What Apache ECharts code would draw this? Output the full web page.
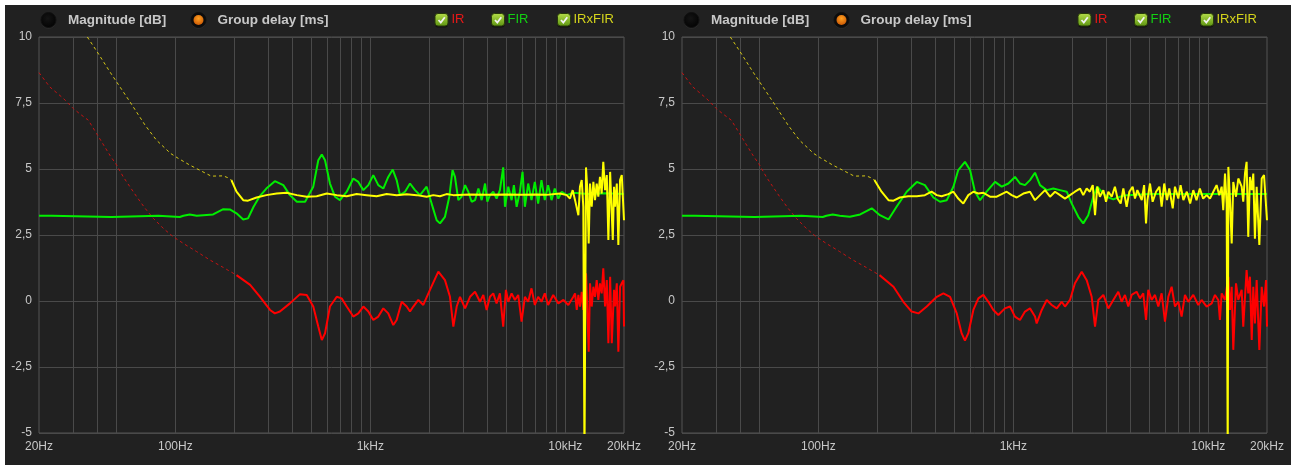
<!DOCTYPE html>
<html>
<head>
<meta charset="utf-8">
<title>IR / FIR group delay</title>
<script src="https://cdn.jsdelivr.net/npm/echarts@6/dist/echarts.min.js"></script>
<style>
  html, body { margin: 0; padding: 0; background: #ffffff; }
  #chart { position: absolute; left: 5px; top: 5px; width: 1286px; height: 460px; }
</style>
</head>
<body>
<div id="chart"></div>
<script>
// ---- axis values ----
const freqGridLines = [30, 40, 50, 100, 200, 300, 400, 500, 600, 700, 800, 900, 1000,
  2000, 3000, 4000, 5000, 6000, 7000, 8000, 9000, 10000];
const freqLabelValues = [20, 100, 1000, 10000, 20000];
const freqLabelTexts = ['20Hz', '100Hz', '1kHz', '10kHz', '20kHz'];
const delayMin = -5, delayMax = 10, delayStep = 2.5;

// ---- group delay [ms] vs frequency [Hz] ----
// low-frequency tails (drawn dashed), same in both panels
const irLow = [[20, 8.65], [22.7, 8.11], [26.7, 7.67], [30, 7.29], [32.5, 7.08], [35.8, 6.85],
  [39.5, 6.34], [41.9, 6.03], [46.2, 5.52], [50, 5.15], [54.1, 4.70], [58.6, 4.32], [63.4, 3.95],
  [70, 3.51], [77.2, 3.13], [86.8, 2.75], [97.7, 2.43], [110, 2.18], [128.8, 1.87], [150.7, 1.55],
  [176.3, 1.27], [206, 0.98]];
const irfirLow = [[35.4, 10.0], [39.5, 9.47], [46.2, 8.68], [50, 8.30], [58.6, 7.54], [70, 6.66],
  [80.1, 6.09], [94.6, 5.59], [103.7, 5.40], [118.6, 5.15], [138.7, 4.89], [152.9, 4.73],
  [176.3, 4.74], [190.4, 4.64], [194, 4.58]];

// left panel
const irLeft = [[206, 0.98], [242, 0.61], [272, 0.16], [306, -0.34], [324, -0.47], [344, -0.40],
  [387, -0.09], [436, 0.26], [472, 0.23], [510, -0.21], [541, -0.97], [564, -1.48], [586, -1.22],
  [621, -0.21], [673, 0.16], [713, 0.10], [757, -0.21], [818, -0.59], [868, -0.47], [921, -0.21],
  [977, -0.40], [1036, -0.72], [1099, -0.59], [1166, -0.28], [1236, -0.47], [1312, -0.91],
  [1365, -0.72], [1449, -0.03], [1537, -0.21], [1598, -0.40], [1662, -0.21], [1763, 0.04],
  [1870, -0.15], [2023, 0.42], [2233, 1.11], [2415, 0.79], [2562, 0.16], [2666, -0.97],
  [2774, -0.21], [2885, 0.16], [3062, -0.28], [3247, 0.16], [3444, 0.35], [3653, -0.03],
  [3798, 0.23], [3950, -0.34], [4108, 0.16], [4271, 0.29], [4442, -0.09], [4620, 0.29],
  [4804, -0.97], [4960, 0.42], [5100, -0.03], [5305, 0.29], [5516, 0.04], [5736, 0.23],
  [5966, -0.78], [6205, 0.16], [6453, -0.03], [6710, 0.48], [6978, -0.15], [7257, 0.16],
  [7547, -0.03], [7849, 0.29], [8163, -0.15], [8670, 0.23], [9209, -0.09], [9781, 0.04],
  [10360, -0.15], [11000, 0.16], [11220, 0.29], [11450, -0.34], [11670, 0.23], [11890, -0.21],
  [12140, 0.35], [12370, -0.34], [12770, 1.05], [12970, -0.34], [13180, -1.92], [13390, 0.67],
  [13660, -0.21], [13930, 0.54], [14200, 0.16], [14490, 0.79], [14770, 0.04], [15060, 0.67],
  [15370, 0.29], [15660, 1.24], [15990, -0.21], [16320, 0.79], [16630, -1.60], [16980, 0.92],
  [17310, -1.60], [17780, 0.42], [17990, -0.21], [18370, 0.67], [18710, -1.92], [19090, 0.54],
  [19480, 0.67], [19860, 0.79], [20000, -0.97]];
const firLeft = [[20, 3.23], [23.2, 3.23], [23.6, 3.18], [47.1, 3.18], [47.6, 3.23], [81.9, 3.23],
  [82.5, 3.18], [105.4, 3.18], [110, 3.23], [118.6, 3.28], [128.8, 3.23], [156.3, 3.28],
  [176.3, 3.48], [190.4, 3.47], [206, 3.32], [223, 3.09], [236, 3.13], [252, 3.57], [270, 3.95],
  [293, 4.26], [324, 4.54], [358, 4.39], [387, 4.01], [420, 3.76], [463, 3.76], [510, 4.33],
  [541, 5.33], [564, 5.55], [586, 5.33], [621, 4.45], [659, 3.95], [699, 3.82], [757, 4.14],
  [818, 4.64], [868, 4.51], [921, 4.20], [977, 4.39], [1036, 4.77], [1099, 4.39], [1166, 4.26],
  [1236, 4.70], [1303, 4.98], [1365, 4.58], [1420, 4.01], [1507, 4.14], [1598, 4.45], [1695, 4.20],
  [1798, 4.01], [1945, 4.33], [2063, 3.69], [2190, 3.06], [2277, 2.94], [2415, 3.19], [2542, 3.95],
  [2641, 4.96], [2718, 4.70], [2827, 3.82], [2939, 3.95], [3062, 4.39], [3181, 4.14], [3310, 3.76],
  [3444, 3.82], [3585, 4.26], [3725, 3.82], [3877, 4.45], [3983, 3.76], [4108, 4.01], [4271, 4.14],
  [4442, 3.88], [4620, 4.20], [4804, 5.06], [4905, 3.57], [5100, 4.33], [5305, 3.82], [5450, 4.39],
  [5630, 3.57], [5850, 4.14], [6035, 4.89], [6205, 3.57], [6453, 4.45], [6710, 3.82], [6978, 4.51],
  [7257, 3.69], [7547, 4.58], [7849, 3.82], [8163, 4.39], [8500, 3.82], [8830, 4.26], [9209, 3.88],
  [9590, 4.14], [10170, 4.01], [11000, 4.10], [13000, 4.05], [16000, 4.08], [20000, 4.05]];
const irfirLeft = [[194, 4.58], [206, 4.14], [223, 3.82], [236, 3.80], [261, 3.92], [293, 4.01],
  [331, 4.07], [372, 4.10], [420, 4.01], [472, 3.95], [531, 3.97], [598, 4.07], [673, 4.01],
  [757, 3.97], [851, 4.05], [958, 4.01], [1078, 3.97], [1213, 4.05], [1365, 4.01], [1537, 4.04],
  [1729, 4.01], [1945, 3.95], [2104, 4.01], [2277, 3.97], [2461, 4.05], [2666, 4.01], [3200, 4.03],
  [4000, 4.02], [5000, 4.03], [6000, 4.02], [7000, 4.03], [8000, 4.02], [9397, 4.07], [10170, 4.01],
  [10570, 3.88], [10910, 4.20], [11220, 3.82], [11440, 3.88], [11670, 3.25], [11890, 4.33],
  [12140, 4.58], [12370, 3.57], [12540, -6], [12770, 5.06], [12970, 4.20], [13180, 2.18],
  [13390, 4.45], [13660, 3.57], [13930, 4.51], [14200, 3.82], [14490, 4.45], [14770, 3.95],
  [15060, 4.70], [15370, 4.07], [15660, 5.27], [15990, 4.20], [16320, 4.77], [16630, 2.31],
  [16980, 4.89], [17310, 4.83], [17520, 2.31], [17780, 4.33], [17990, 3.57], [18370, 4.45],
  [18710, 2.12], [19090, 4.58], [19480, 4.77], [19860, 4.83], [20000, 3.06]];

// right panel
const irRight = [[206, 0.98], [243, 0.54], [273, -0.03], [301, -0.40], [326, -0.47], [360, -0.21],
  [405, 0.16], [438, 0.29], [474, 0.16], [513, -0.47], [543, -1.22], [565, -1.50], [588, -1.22],
  [624, -0.34], [662, 0.10], [702, 0.23], [745, -0.03], [790, -0.34], [838, -0.53], [906, -0.28],
  [962, -0.21], [1020, -0.59], [1082, -0.72], [1148, -0.40], [1218, -0.28], [1292, -0.59],
  [1318, -0.85], [1399, -0.34], [1484, 0.04], [1574, -0.15], [1670, -0.28], [1771, -0.03],
  [1841, -0.21], [1953, 0.04], [2071, 0.67], [2243, 1.11], [2379, 0.79], [2523, 0.16],
  [2625, -0.97], [2730, 0.04], [2896, 0.23], [3072, -0.28], [3258, 0.04], [3455, 0.35],
  [3594, -0.03], [3738, 0.23], [3888, -0.21], [4044, 0.23], [4290, 0.35], [4462, 0.10],
  [4640, 0.29], [4793, -0.72], [4923, 0.42], [5122, 0.04], [5328, 0.23], [5542, -0.21],
  [5764, 0.29], [5995, -0.78], [6236, 0.16], [6486, 0.54], [6746, -0.21], [7017, -0.03],
  [7298, -0.59], [7591, 0.23], [7895, -0.03], [8375, 0.23], [8884, -0.15], [9240, 0.04],
  [9811, -0.21], [10410, -0.09], [10820, 0.23], [11250, 0.04], [11470, -0.72], [11710, 0.29],
  [12180, 0.04], [12670, 0.92], [12920, -0.34], [13180, 0.54], [13430, -1.85], [13870, 0.67],
  [14250, 0.04], [14830, 0.42], [15110, -0.97], [15720, 1.17], [16030, 0.29], [16350, 0.92],
  [16700, -1.48], [17010, 0.54], [17340, -0.85], [17700, 0.79], [18270, -1.85], [18790, 0.54],
  [19310, -0.21], [19770, 0.79], [20000, -0.97]];
const firRight = [[20, 3.23], [23.2, 3.23], [23.6, 3.18], [47.1, 3.18], [47.6, 3.23], [81.9, 3.23],
  [82.5, 3.18], [105.4, 3.18], [110, 3.23], [118.6, 3.28], [128.8, 3.23], [145, 3.19], [164, 3.28],
  [188, 3.51], [207, 3.25], [229, 3.09], [252, 3.57], [284, 4.14], [320, 4.51], [352, 4.39],
  [389, 3.92], [421, 3.76], [456, 3.82], [493, 4.33], [522, 4.96], [565, 5.27], [600, 4.96],
  [636, 4.14], [675, 3.82], [730, 4.14], [806, 4.51], [872, 4.33], [943, 4.45], [1020, 4.70],
  [1082, 4.45], [1148, 4.39], [1218, 4.58], [1292, 4.86], [1371, 4.39], [1484, 4.20], [1604, 4.26],
  [1736, 4.20], [1879, 4.14], [1994, 3.69], [2155, 3.19], [2284, 2.94], [2423, 3.25], [2571, 3.95],
  [2695, 4.33], [2838, 4.14], [3012, 3.95], [3258, 3.85], [3525, 3.95], [3813, 4.01], [5000, 4.05],
  [8000, 4.05], [12000, 4.05], [20000, 4.05]];
const irfirRight = [[194, 4.58], [211, 4.14], [229, 3.82], [243, 3.80], [262, 3.92], [289, 3.97],
  [320, 3.97], [352, 4.01], [381, 4.14], [405, 4.01], [429, 3.97], [464, 4.05], [493, 4.14],
  [522, 3.88], [554, 3.69], [588, 4.01], [624, 4.14], [662, 4.07], [702, 4.10], [759, 3.95],
  [822, 3.95], [872, 4.05], [925, 4.14], [981, 4.01], [1041, 3.92], [1126, 4.07], [1218, 4.14],
  [1292, 3.82], [1371, 4.01], [1455, 4.20], [1543, 3.95], [1637, 4.14], [1736, 4.01], [1841, 3.88],
  [1953, 4.01], [2071, 4.14], [2198, 4.26], [2284, 4.01], [2379, 4.26], [2469, 4.14], [2556, 4.39],
  [2625, 3.25], [2695, 4.33], [2781, 3.95], [2896, 4.20], [2989, 3.76], [3072, 4.14], [3196, 3.95],
  [3320, 4.33], [3425, 3.88], [3553, 3.69], [3667, 4.26], [3813, 3.57], [3936, 4.14], [4093, 4.33],
  [4207, 3.88], [4326, 4.20], [4558, 3.82], [4687, 4.39], [4793, 2.94], [4875, 3.82], [5023, 4.45],
  [5182, 3.76], [5396, 4.14], [5614, 4.33], [5764, 3.57], [5943, 4.45], [6140, 3.82], [6310, 4.26],
  [6570, 3.51], [6746, 4.33], [7017, 3.88], [7210, 4.39], [7450, 3.82], [7760, 4.14], [8070, 3.69],
  [8375, 4.20], [8700, 3.82], [9050, 4.26], [9410, 3.88], [9811, 4.01], [10200, 3.88], [10610, 4.14],
  [11030, 4.39], [11380, 4.01], [11710, 4.33], [11930, 3.44], [12180, 4.83], [12420, 3.69],
  [12580, -6], [12670, 5.08], [12920, 3.82], [13180, 2.18], [13430, 4.51], [13870, 3.95],
  [14250, 4.64], [14830, 4.33], [15110, 3.76], [15420, 4.83], [15720, 5.27], [16030, 2.43],
  [16350, 4.70], [16700, 4.20], [17010, 4.83], [17340, 2.36], [17700, 4.33], [18270, 2.12],
  [18790, 4.64], [19310, 4.77], [19770, 4.83], [20000, 3.06]];

// ---- styling ----
const TEXT = '#c8c8c8';
const GRIDLINE = '#4a4a4a';
const FONT = '"Liberation Sans", Arial, sans-serif';
const RED = '#ff0000', GREEN = '#00ee00', YELLOW = '#ffff00';
const RED_DIM = '#c41212', YELLOW_DIM = '#d6c816';
const PANEL_DX = 643;

const panels = [
  { ir: irLeft, fir: firLeft, irfir: irfirLeft },
  { ir: irRight, fir: firRight, irfir: irfirRight }
];

function lineSeries(name, data, idx, color, width, dashed) {
  return {
    type: 'line', name: name, data: data,
    xAxisIndex: idx, yAxisIndex: idx,
    showSymbol: false, symbol: 'none', clip: true,
    lineStyle: { color: color, width: width, type: dashed ? [3, 3] : 'solid' },
    itemStyle: { color: color },
    emphasis: { disabled: true },
    silent: true
  };
}

const series = [];
panels.forEach(function (p, i) {
  series.push(lineSeries('IR', irLow, i, RED_DIM, 1, true));
  series.push(lineSeries('IR', p.ir, i, RED, 2, false));
  series.push(lineSeries('FIR', p.fir, i, GREEN, 2, false));
  series.push(lineSeries('IRxFIR', irfirLow, i, YELLOW_DIM, 1, true));
  series.push(lineSeries('IRxFIR', p.irfir, i, YELLOW, 2, false));
});

const grids = [0, 1].map(function (i) {
  return {
    left: 34 + i * PANEL_DX, top: 32, width: 585, height: 396,
    show: true, borderColor: '#555555', borderWidth: 1, backgroundColor: 'transparent'
  };
});

const xAxes = [0, 1].map(function (i) {
  return {
    type: 'log', logBase: 10, gridIndex: i, min: 20, max: 20000,
    axisLine: { show: false },
    axisTick: { show: false, customValues: freqGridLines },
    splitLine: { show: true, lineStyle: { color: GRIDLINE, width: 1 } },
    axisLabel: {
      customValues: freqLabelValues, margin: 8, color: TEXT, fontSize: 12, fontFamily: FONT,
      formatter: function (v) {
        let best = 0;
        freqLabelValues.forEach(function (f, k) {
          if (Math.abs(Math.log10(f) - Math.log10(v)) < Math.abs(Math.log10(freqLabelValues[best]) - Math.log10(v))) best = k;
        });
        return freqLabelTexts[best];
      }
    }
  };
});

const yAxes = [0, 1].map(function (i) {
  return {
    type: 'value', gridIndex: i, min: delayMin, max: delayMax, interval: delayStep,
    axisLine: { show: false }, axisTick: { show: false },
    splitLine: { show: true, lineStyle: { color: GRIDLINE, width: 1 } },
    axisLabel: {
      margin: 7, color: TEXT, fontSize: 12, fontFamily: FONT,
      formatter: function (v) { return String(v).replace('.', ','); }
    }
  };
});

// header row: view selectors and trace toggles
const toggles = [
  { name: 'IR', color: '#e81818', box: 430, text: 446.5 },
  { name: 'FIR', color: '#12d012', box: 486.5, text: 502.5 },
  { name: 'IRxFIR', color: '#d4d41c', box: 552.5, text: 568.5 }
];

function headerGraphics(dx) {
  const g = [];
  // magnitude selector (off)
  g.push({ type: 'circle', shape: { cx: 43.5 + dx, cy: 16.5, r: 7.5 }, style: { fill: '#2a2a2a' } });
  g.push({ type: 'circle', shape: { cx: 43.5 + dx, cy: 15, r: 7.5 },
    style: { fill: new echarts.graphic.RadialGradient(0.45, 0.4, 0.7, [
      { offset: 0, color: '#141414' }, { offset: 1, color: '#000000' }]), stroke: '#101010', lineWidth: 1 } });
  g.push({ type: 'text', x: 63 + dx, y: 15,
    style: { text: 'Magnitude [dB]', fill: TEXT, font: 'bold 13.5px ' + FONT, verticalAlign: 'middle', align: 'left' } });
  // group delay selector (on)
  g.push({ type: 'circle', shape: { cx: 193.5 + dx, cy: 16.5, r: 7.5 }, style: { fill: '#2a2a2a' } });
  g.push({ type: 'circle', shape: { cx: 193.5 + dx, cy: 15, r: 7.5 }, style: { fill: '#0c0c0c', stroke: '#101010' } });
  g.push({ type: 'circle', shape: { cx: 193.5 + dx, cy: 15, r: 5 },
    style: { fill: new echarts.graphic.RadialGradient(0.5, 0.35, 0.8, [
      { offset: 0, color: '#ffa020' }, { offset: 1, color: '#c04a00' }]) } });
  g.push({ type: 'text', x: 212.5 + dx, y: 15,
    style: { text: 'Group delay [ms]', fill: TEXT, font: 'bold 13.5px ' + FONT, verticalAlign: 'middle', align: 'left' } });
  // trace toggles
  toggles.forEach(function (t) {
    const bx = t.box + dx, by = 8.5;
    g.push({ type: 'rect', shape: { x: bx, y: by + 1.5, width: 13, height: 12.5, r: 3 }, style: { fill: '#111111' } });
    g.push({ type: 'rect', shape: { x: bx, y: by, width: 13, height: 12.5, r: 3 },
      style: { fill: new echarts.graphic.LinearGradient(0, 0, 0, 1, [
        { offset: 0, color: '#b6de4a' }, { offset: 1, color: '#5c9410' }]), stroke: '#283a0a', lineWidth: 1 } });
    g.push({ type: 'polyline', shape: { points: [[bx + 3.5, by + 6.5], [bx + 5.8, by + 9], [bx + 9.8, by + 3.8]] },
      style: { stroke: '#f2f2f2', lineWidth: 1.8, fill: null } });
    g.push({ type: 'text', x: t.text + dx, y: 14.5,
      style: { text: t.name, fill: t.color, font: '13px ' + FONT, verticalAlign: 'middle', align: 'left' } });
  });
  return g;
}

const option = {
  animation: false,
  backgroundColor: '#212121',
  grid: grids,
  xAxis: xAxes,
  yAxis: yAxes,
  series: series,
  graphic: { elements: headerGraphics(0).concat(headerGraphics(PANEL_DX)) }
};

const chart = echarts.init(document.getElementById('chart'), null, { renderer: 'canvas' });
chart.setOption(option);
</script>
</body>
</html>
